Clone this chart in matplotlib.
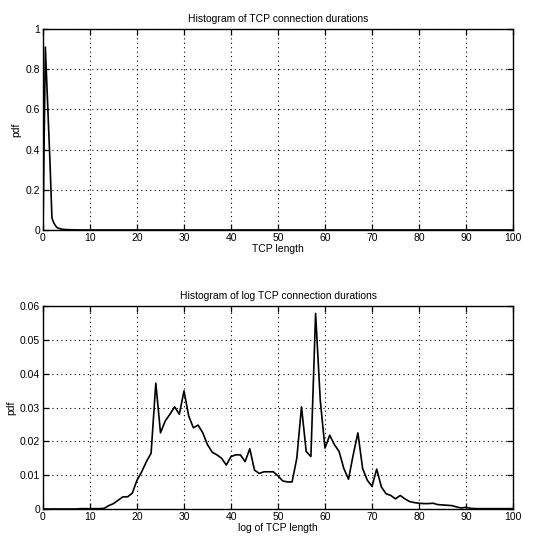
import matplotlib
matplotlib.use("Agg")
import matplotlib.pyplot as plt
import numpy as np

# Top panel: histogram of TCP connection durations
top_x = [0, 0.5, 1.0, 1.5, 1.9, 2.3, 2.7, 3.0, 3.5, 4, 5, 6, 7, 8, 10, 20, 30, 40, 50, 60, 70, 80, 90, 100]
top_pdf = [0.0, 0.91, 0.62, 0.33, 0.06, 0.035, 0.02, 0.012, 0.007, 0.004, 0.002, 0.001, 0.0005, 0.0, 0.0,
           0.0, 0.0, 0.0, 0.0, 0.0, 0.0, 0.0, 0.0, 0.0]

# Bottom panel: histogram of log TCP connection durations
log_x = list(range(0, 101))
log_pdf = [0, 0, 0, 0, 0, 0, 0, 0, 0.0001, 0.0001,
           0.0001, 0.0001, 0.0001, 0.0002, 0.001, 0.0016, 0.0026, 0.0036, 0.0036, 0.0047,
           0.0085, 0.011, 0.014, 0.0165, 0.0372, 0.0225, 0.026, 0.028, 0.0302, 0.028,
           0.0349, 0.0275, 0.024, 0.0248, 0.0225, 0.019, 0.0168, 0.016, 0.015, 0.013,
           0.0155, 0.016, 0.016, 0.014, 0.0178, 0.0115, 0.0105, 0.011, 0.011, 0.011,
           0.0098, 0.0083, 0.008, 0.008, 0.015, 0.0302, 0.017, 0.0155, 0.0578, 0.032,
           0.018, 0.0218, 0.019, 0.017, 0.012, 0.0088, 0.016, 0.0225, 0.012, 0.0085,
           0.0067, 0.0118, 0.0065, 0.0045, 0.004, 0.003, 0.004, 0.003, 0.0022, 0.0019,
           0.0017, 0.0016, 0.0016, 0.0017, 0.0013, 0.0012, 0.0011, 0.001, 0.0006, 0.0003,
           0.0005, 0.0002, 0.0001, 0.0001, 0.0001, 0.0001, 0.0001, 0.0001, 0.0001, 0.0001,
           0.0001]

x_ticks = list(range(0, 101, 10))
top_yticks = [0, 0.2, 0.4, 0.6, 0.8, 1]
top_ylabels = ["0", "0.2", "0.4", "0.6", "0.8", "1"]
bot_yticks = [0, 0.01, 0.02, 0.03, 0.04, 0.05, 0.06]
bot_ylabels = ["0", "0.01", "0.02", "0.03", "0.04", "0.05", "0.06"]

plt.rcParams['font.family'] = ['Liberation Sans', 'DejaVu Sans']
plt.rcParams['font.size'] = 7.5

W, H = 553, 549
fig = plt.figure(figsize=(W / 100, H / 100), dpi=100)

def rect(l, t, r, b):
    return [l / W, 1 - b / H, (r - l) / W, (b - t) / H]

ax1 = fig.add_axes(rect(43, 29, 513, 230))
ax2 = fig.add_axes(rect(43, 306, 513, 509))

def style(ax, yticks, ylabels, ymax, title, xlabel):
    ax.set_xlim(0, 100)
    ax.set_ylim(0, ymax)
    ax.set_xticks(x_ticks)
    ax.set_xticklabels([str(v) for v in x_ticks])
    ax.set_yticks(yticks)
    ax.set_yticklabels(ylabels)
    ax.tick_params(direction='in', length=4, width=0.9, colors='black', pad=2,
                   top=True, right=True)
    ax.grid(True, linestyle=(0, (1, 3)), color='black', linewidth=0.8)
    for s in ax.spines.values():
        s.set_linewidth(1.0)
        s.set_color('black')
    ax.set_title(title, fontsize=7.5, pad=5)
    ax.set_xlabel(xlabel, labelpad=1)
    ax.set_ylabel('pdf', labelpad=3)

ax1.plot(top_x, top_pdf, color='black', linewidth=1.2)
style(ax1, top_yticks, top_ylabels, 1, 'Histogram of TCP connection durations', 'TCP length')

ax2.plot(log_x, log_pdf, color='black', linewidth=1.2)
style(ax2, bot_yticks, bot_ylabels, 0.06, 'Histogram of log TCP connection durations', 'log of TCP length')

fig.savefig('out.png', dpi=100)
